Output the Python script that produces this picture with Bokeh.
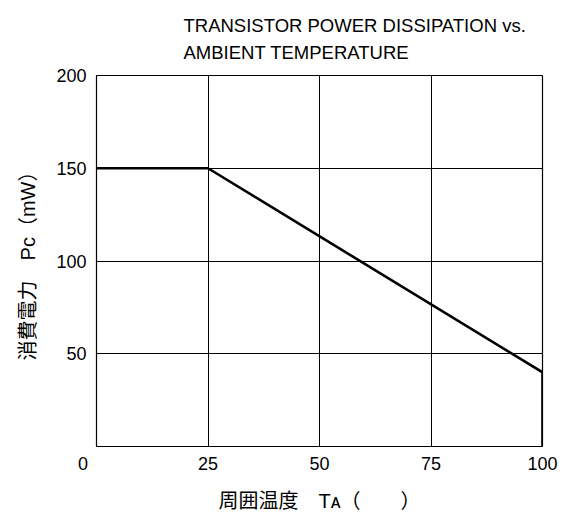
from bokeh.plotting import figure
from bokeh.models import Range1d, FixedTicker
from bokeh.embed import file_html
from bokeh.resources import INLINE

# Data
temp = [0, 25, 100, 100]          # ambient temperature (°C)
power = [150, 150, 40, 0]         # power dissipation (mW)
x_ticks = [0, 25, 50, 75, 100]
y_ticks = [50, 100, 150, 200]
x_grid = [25, 50, 75]
y_grid = [50, 100, 150]
title_line1 = "TRANSISTOR POWER DISSIPATION vs."
title_line2 = "AMBIENT TEMPERATURE"
x_label = "周囲温度　Tᴀ（　　）"
y_label = "消費電力　Pᴄ（mW）"

LAT = "Liberation Sans"
MIX = "Liberation Sans, Noto Sans CJK JP"

W, H = 570, 520
p = figure(width=W, height=H, output_backend="svg", toolbar_location=None,
           x_range=Range1d(0, 100), y_range=Range1d(0, 200),
           min_border_left=96, min_border_right=28, min_border_top=75, min_border_bottom=74)
p.background_fill_color = "white"
p.border_fill_color = "white"
p.outline_line_color = "black"
p.outline_line_width = 1.2

# two-line title
p.title.text = title_line1 + "\n" + title_line2
p.title.align = "left"
p.title.offset = 87
p.title.text_font = LAT
p.title.text_font_size = "18.5px"
p.title.text_font_style = "normal"
p.title.text_color = "black"
p.title.text_line_height = 1.3
p.title.standoff = 25

for ax in (p.xaxis[0], p.yaxis[0]):
    ax.axis_line_color = None
    ax.major_tick_in = 0
    ax.major_tick_out = 0
    ax.minor_tick_in = 0
    ax.minor_tick_out = 0
    ax.major_label_text_font = LAT
    ax.major_label_text_font_size = "18px"
    ax.major_label_text_color = "black"
    ax.axis_label_text_font = MIX
    ax.axis_label_text_font_size = "20px"
    ax.axis_label_text_font_style = "normal"
    ax.axis_label_text_color = "black"
p.xaxis[0].ticker = FixedTicker(ticks=x_ticks)
p.xaxis[0].major_label_overrides = {0: "0\u2003\u2002"}
p.yaxis[0].ticker = FixedTicker(ticks=y_ticks)
p.xaxis[0].major_label_standoff = 7
p.yaxis[0].major_label_standoff = 10
p.xaxis[0].axis_label = x_label
p.yaxis[0].axis_label = y_label
p.xaxis[0].axis_label_standoff = 13
p.yaxis[0].axis_label_standoff = 14

p.xgrid[0].ticker = FixedTicker(ticks=x_grid)
p.ygrid[0].ticker = FixedTicker(ticks=y_grid)
for g in (p.xgrid[0], p.ygrid[0]):
    g.grid_line_color = "black"
    g.grid_line_width = 1
    g.grid_line_alpha = 1

p.line(temp, power, line_color="black", line_width=2.6)

open("out.html", "w").write(file_html(p, INLINE))
